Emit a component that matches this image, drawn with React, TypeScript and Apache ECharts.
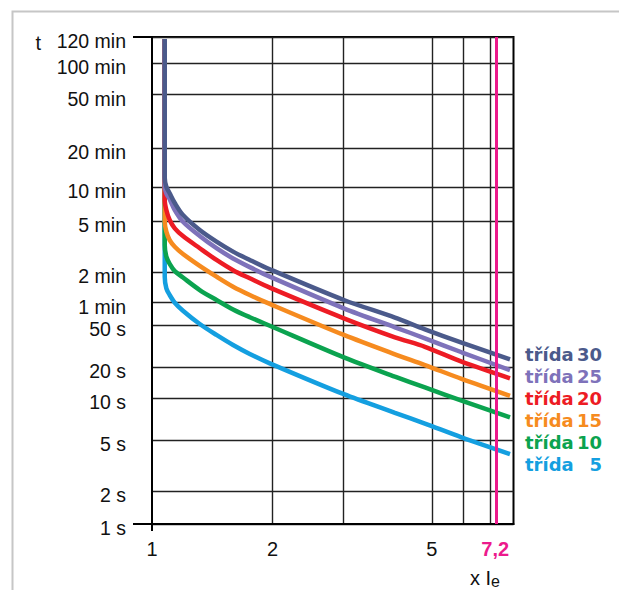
import { useEffect, useRef } from 'react';
import * as echarts from 'echarts';

// ---- data ----
const classNames = ['třída 5', 'třída 10', 'třída 15', 'třída 20', 'třída 25', 'třída 30'];
const classNumbers = ['5', '10', '15', '20', '25', '30'];
const classColors = ['#149fe0', '#0ba34f', '#f68b1f', '#ed1c24', '#7e72ba', '#4b5a8b'];

// multiple of Ie at which each curve was read
const currentMultiple = [1.076, 1.076, 1.086, 1.107, 1.14, 1.195, 1.316, 1.449, 1.594, 1.755, 1.969, 3.015, 4.045, 4.806, 5.935, 7.84];

// trip time in seconds
const tripClass5 = [7100, 108, 83, 71.4, 60, 56.2, 50.4, 40.3, 32.4, 26.7, 21.8, 10.9, 7.85, 6.58, 5.25, 3.9];
const tripClass10 = [7100, 195, 158, 139, 122, 106, 79.9, 63.8, 56.8, 53.3, 49.2, 24.8, 16.2, 12.7, 9.57, 7.29];
const tripClass15 = [7100, 296, 248, 213, 189, 166, 134, 108, 86.1, 71.4, 59.4, 40.3, 26.5, 21.0, 15.4, 10.5];
const tripClass20 = [7100, 462, 376, 306, 263, 229, 184, 149, 124, 104, 84.2, 52.8, 38.3, 31.2, 22.6, 15.6];
const tripClass25 = [7100, 606, 530, 469, 376, 296, 229, 184, 153, 131, 108, 57.3, 47.6, 37.5, 27.7, 18.8];
const tripClass30 = [7100, 710, 606, 530, 434, 339, 255, 207, 173, 149, 126, 63.8, 53.1, 45.5, 34.1, 23.8];

// time axis ticks (seconds) and their labels
const timeTicks = [1, 2, 5, 10, 20, 50, 60, 120, 300, 600, 1200, 3000, 6000, 7200];
const timeTickLabels = ['1 s', '2 s', '5 s', '10 s', '20 s', '50 s', '1 min', '2 min', '5 min', '10 min', '20 min', '50 min', '100 min', '120 min'];

// current axis
const currentMin = 1;
const currentMax = 8;
const currentGridValues = [2, 3, 5, 6, 7];
const currentLabelValues = [1, 2, 5, 7.2];
const currentLabels = ['1', '2', '5', '7,2'];
const markedMultiple = 7.2;

// ---- the figure's non-uniform time scale (stop of each time tick along the axis) ----
const timeScaleStops = [0, 33, 83.7, 126, 156.7, 199, 221.3, 252, 303, 336.7, 376, 429.3, 460.7, 487];

const toLevel = (s: number): number => {
  const T = timeTicks;
  const L = timeScaleStops;
  if (s <= T[0]) return L[0];
  for (let i = 0; i < T.length - 1; i++) {
    if (s <= T[i + 1]) {
      return L[i] + ((L[i + 1] - L[i]) * Math.log(s / T[i])) / Math.log(T[i + 1] / T[i]);
    }
  }
  return L[L.length - 1];
};
const toX = (v: number): number => Math.log10(v);

const AXIS_FONT = '"Liberation Sans", Arial, sans-serif';
const LEGEND_FONT = '"DejaVu Sans", sans-serif';
const PINK = '#ec1a8c';

const tripSeries = [tripClass5, tripClass10, tripClass15, tripClass20, tripClass25, tripClass30];

function buildOption(): any {
  const levelTicks = timeTicks.map(toLevel);
  const levelMax = toLevel(timeTicks[timeTicks.length - 1]);
  const xMax = toX(currentMax);
  const xMin = toX(currentMin);

  const legendRich: Record<string, any> = {};
  classNumbers.forEach((n, i) => {
    legendRich['w' + i] = {
      color: classColors[i], fontFamily: LEGEND_FONT, fontWeight: 'bold', fontSize: 18,
      width: 50,
    };
    legendRich['n' + i] = {
      color: classColors[i], fontFamily: LEGEND_FONT, fontWeight: 'bold', fontSize: 18,
      width: 27, align: 'right',
    };
  });

  const series = tripSeries.map((times, i) => ({
    type: 'line',
    name: classNames[i],
    data: times.map((t, k) => [toX(currentMultiple[k]), toLevel(t)]),
    smooth: 0.3,
    symbol: 'none',
    showSymbol: false,
    lineStyle: { color: classColors[i], width: 4.5, cap: 'butt' },
    itemStyle: { color: classColors[i] },
    z: 3 + i,
    ...(i === 0
      ? {
          markLine: {
            silent: true,
            symbol: 'none',
            label: { show: false },
            lineStyle: { color: PINK, width: 3, type: 'solid' },
            data: [{ xAxis: toX(markedMultiple) }],
            z: 20,
          },
        }
      : {}),
  }));

  return {
    animation: false,
    backgroundColor: '#ffffff',
    grid: {
      left: 152,
      right: 105.5,
      top: 37,
      bottom: 66,
      show: true,
      borderColor: '#000',
      borderWidth: 2,
      backgroundColor: 'transparent',
      containLabel: false,
      outerBoundsMode: 'none',
    },
    graphic: [
      {
        type: 'rect',
        left: 10,
        top: 9,
        shape: { x: 0, y: 0, width: 700, height: 700 },
        style: { fill: 'none', stroke: '#c6c6c6', lineWidth: 2 },
        z: -10,
        silent: true,
      },
    ],
    legend: {
      show: true,
      orient: 'vertical',
      left: 519,
      top: 345,
      padding: 0,
      itemGap: 4,
      itemWidth: 0,
      itemHeight: 0,
      selectedMode: false,
      itemStyle: { opacity: 0 },
      lineStyle: { opacity: 0 },
      data: [...classNames].reverse(),
      formatter: (name: string) => {
        const i = classNames.indexOf(name);
        return `{w${i}|třída}{n${i}|${classNumbers[i]}}`;
      },
      textStyle: { fontFamily: LEGEND_FONT, fontWeight: 'bold', fontSize: 18, rich: legendRich },
    },
    xAxis: [
      {
        type: 'value',
        min: xMin,
        max: xMax,
        position: 'bottom',
        axisLine: { show: true, onZero: false, lineStyle: { color: '#000', width: 2 } },
        axisTick: { show: false, customValues: currentGridValues.map(toX) },
        splitLine: { show: true, lineStyle: { color: '#222', width: 1.4 } },
        axisLabel: {
          customValues: currentLabelValues.map(toX),
          margin: 15,
          fontSize: 20,
          fontFamily: AXIS_FONT,
          color: '#111',
          formatter: (v: number) => {
            const i = currentLabelValues.findIndex((c) => Math.abs(toX(c) - v) < 1e-9);
            if (i < 0) return '';
            return currentLabelValues[i] === markedMultiple ? `{p|${currentLabels[i]}}` : currentLabels[i];
          },
          rich: {
            p: { color: PINK, fontWeight: 'bold', fontSize: 20, fontFamily: AXIS_FONT },
          },
        },
        name: '{x|x I}{e|e}',
        nameLocation: 'end',
        nameGap: -43.5,
        nameMoveOverlap: false,
        nameTextStyle: {
          align: 'left',
          verticalAlign: 'middle',
          padding: [108, 0, 0, 0],
          rich: {
            x: { fontSize: 20, fontFamily: AXIS_FONT, color: '#111' },
            e: { fontSize: 16, fontFamily: AXIS_FONT, color: '#111', padding: [7, 0, 0, 0] },
          },
        },
      },
      {
        type: 'value',
        min: xMin,
        max: xMax,
        position: 'bottom',
        axisLine: { show: false, onZero: false },
        axisLabel: { show: false },
        splitLine: { show: false },
        axisTick: { show: true, customValues: [xMin], length: 7, lineStyle: { color: '#000', width: 2 } },
      },
    ],
    yAxis: [
      {
        type: 'value',
        min: 0,
        max: levelMax,
        position: 'left',
        axisLine: { show: true, onZero: false, lineStyle: { color: '#000', width: 2 } },
        axisTick: { show: false, customValues: levelTicks },
        splitLine: { show: true, lineStyle: { color: '#222', width: 1.4 } },
        axisLabel: {
          customValues: levelTicks,
          margin: 26,
          fontSize: 19.5,
          fontFamily: AXIS_FONT,
          color: '#111',
          verticalAlign: 'top',
          lineHeight: 8,
          formatter: (v: number) => {
            const i = levelTicks.findIndex((l) => Math.abs(l - v) < 1e-6);
            return i < 0 ? '' : timeTickLabels[i];
          },
        },
        name: 't',
        nameLocation: 'end',
        nameGap: -5.5,
        nameMoveOverlap: false,
        nameTextStyle: {
          align: 'right',
          verticalAlign: 'middle',
          fontSize: 20,
          fontFamily: AXIS_FONT,
          color: '#111',
          padding: [0, 111, 0, 0],
        },
      },
      {
        type: 'value',
        min: 0,
        max: levelMax,
        position: 'left',
        axisLine: { show: false, onZero: false },
        axisLabel: { show: false },
        splitLine: { show: false },
        axisTick: { show: true, customValues: [0, levelMax], length: 19, lineStyle: { color: '#000', width: 2 } },
      },
    ],
    series,
  };
}

export default function App() {
  const ref = useRef<HTMLDivElement>(null);
  useEffect(() => {
    if (!ref.current) return;
    const chart = echarts.init(ref.current, null, { renderer: 'svg' });
    chart.setOption(buildOption());
    return () => chart.dispose();
  }, []);
  return (
    <div
      ref={ref}
      style={{ position: 'fixed', left: 0, top: 0, width: 619, height: 590, background: '#fff' }}
    />
  );
}
